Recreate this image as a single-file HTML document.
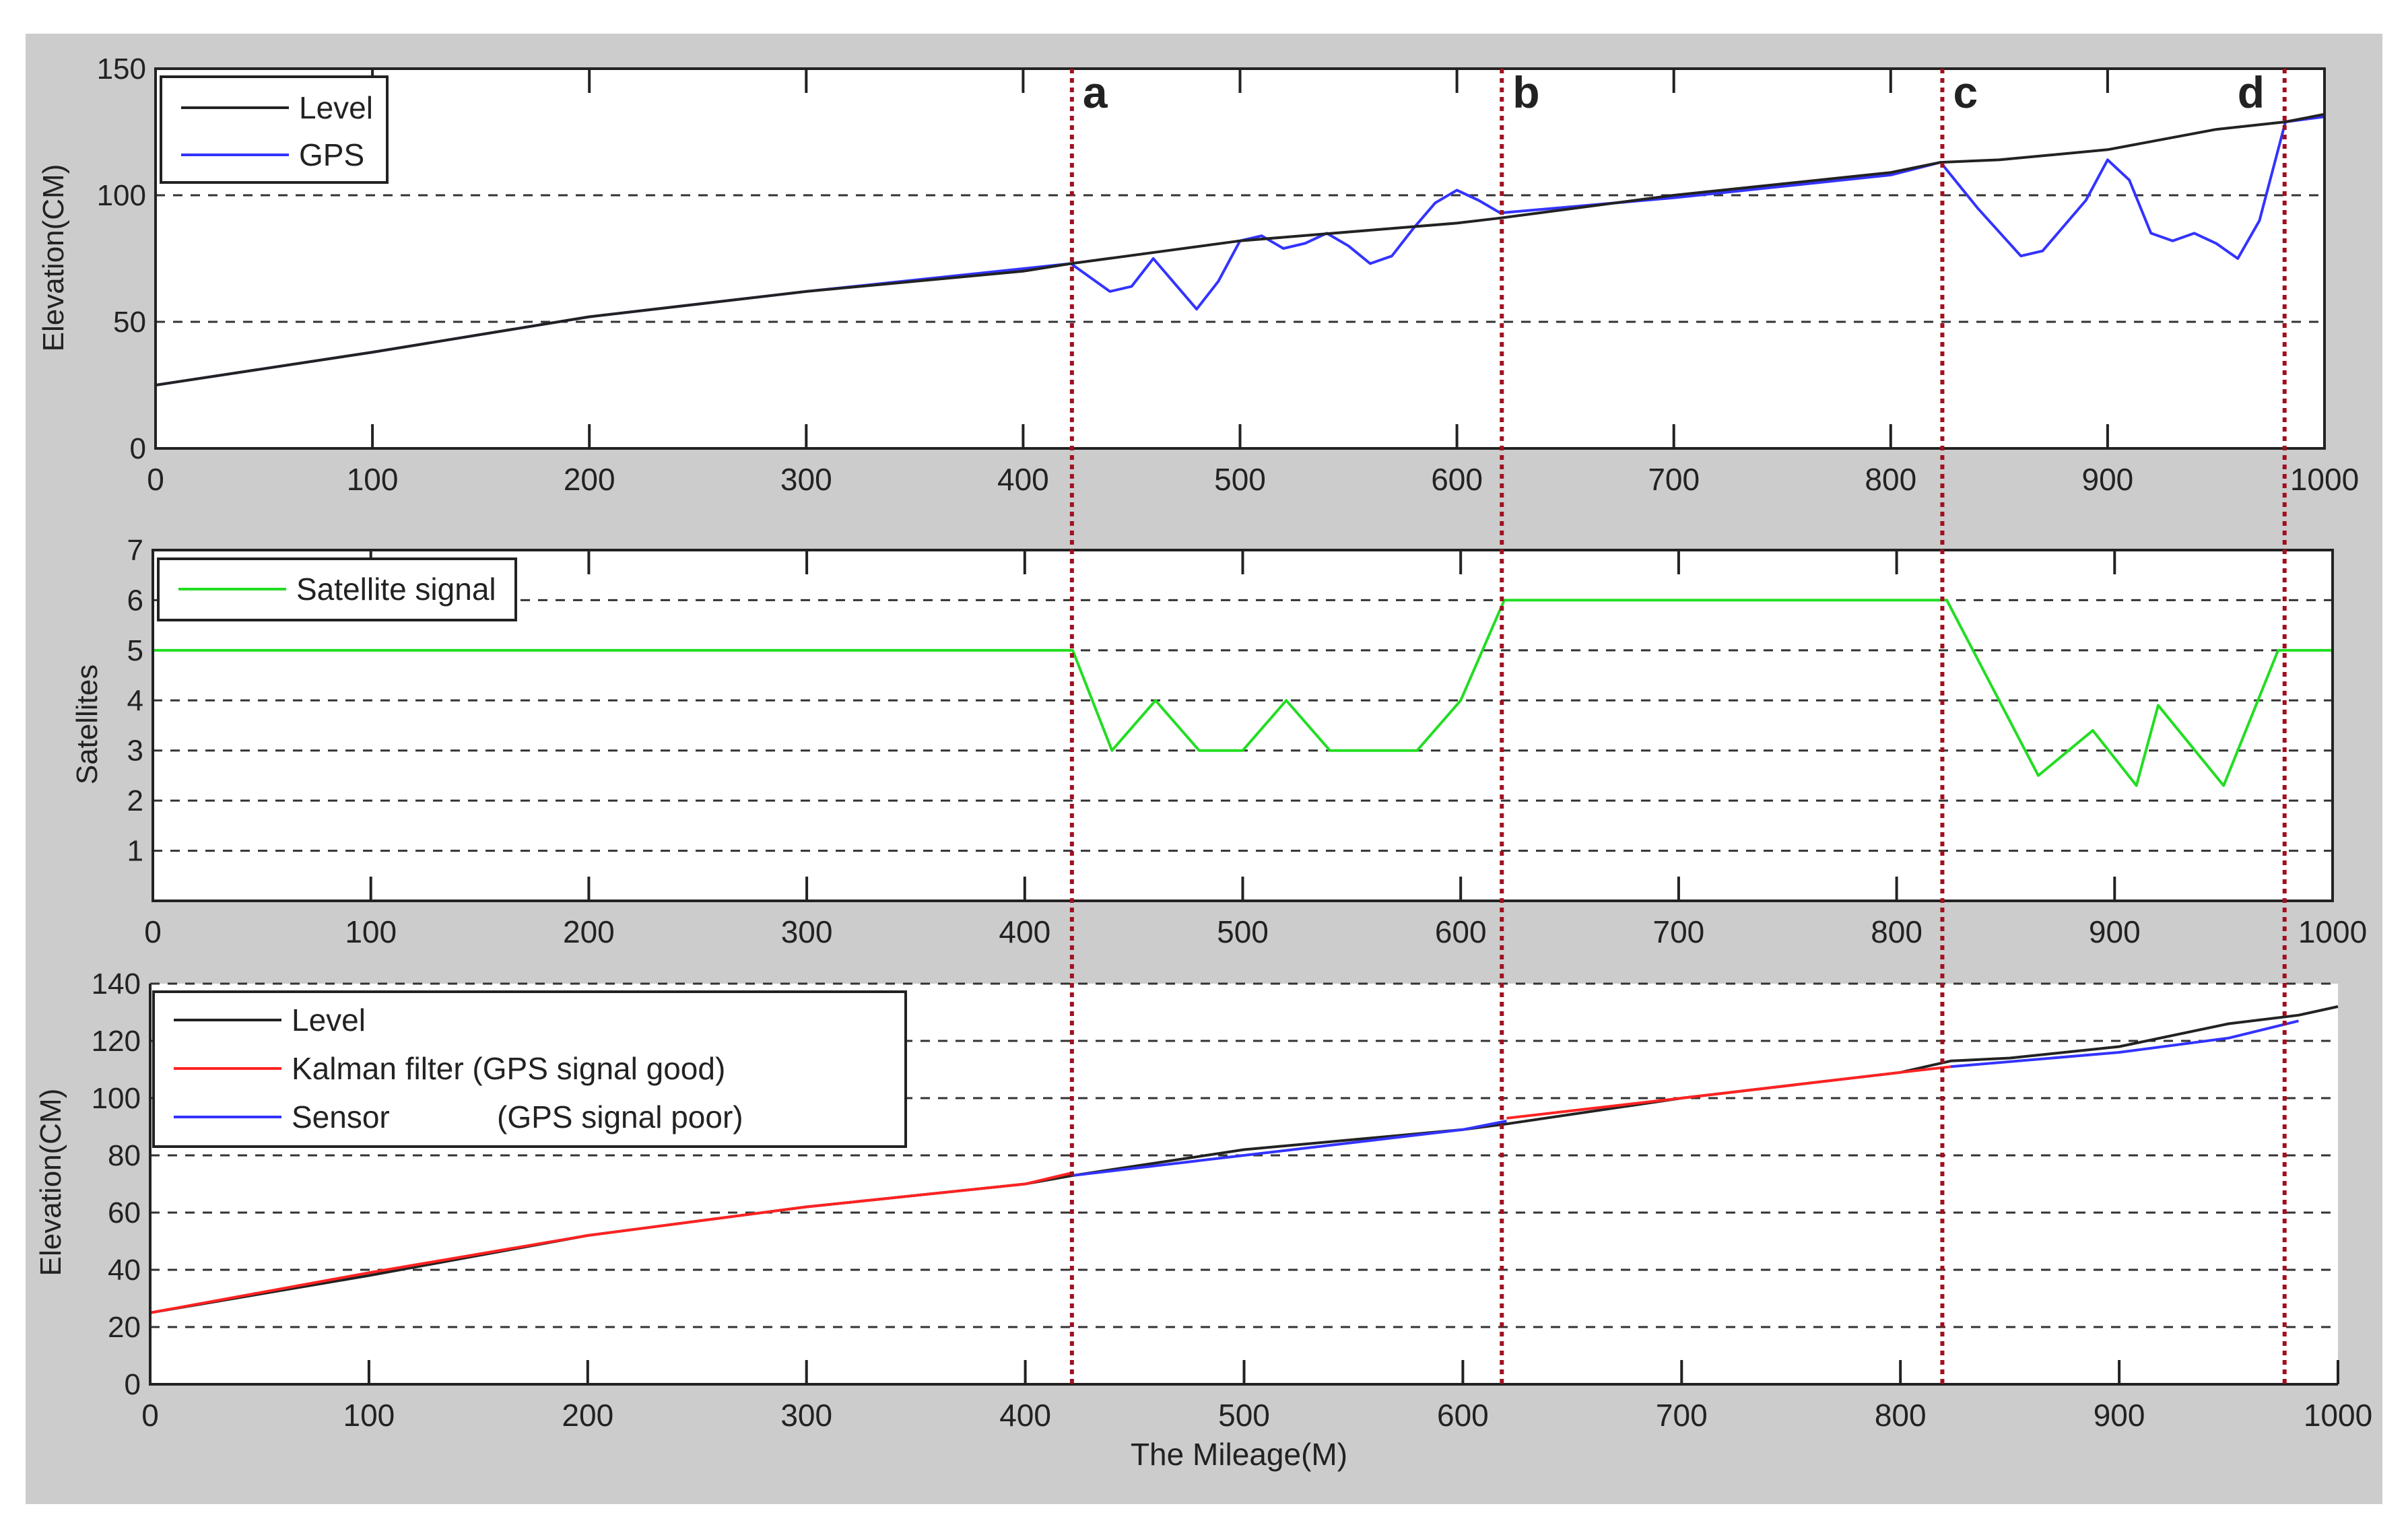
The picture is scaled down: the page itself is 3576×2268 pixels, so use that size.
<!DOCTYPE html>
<html><head><meta charset="utf-8"><style>
html,body{margin:0;padding:0;background:#fff;}
svg{display:block;}
text{font-family:"Liberation Sans Narrow","Liberation Sans",sans-serif;fill:#222;white-space:pre;}
</style></head><body>
<svg id="chart" width="3576" height="2268" viewBox="0 0 3576 2268" xmlns="http://www.w3.org/2000/svg" xml:space="preserve">
<rect x="38" y="50" width="3500" height="2184" fill="#cccccc"/>
<g id="g"></g>
</svg>
<script>
// ---- data ----
const levelX = [0,100,200,300,400,422,500,600,620,700,800,823,850,900,950,982,1000];
const levelY = [25,38,52,62,70,73,82,89,91,100,109,113,114,118,126,129,132];
const gpsX = [0,100,200,300,400,422,440,450,460,470,480,490,500,510,520,530,540,550,560,570,580,590,600,610,620,700,800,823,840,860,870,890,900,910,920,930,940,950,960,970,982,1000];
const gpsY = [25,38,52,62,71,73,62,64,75,65,55,66,82,84,79,81,85,80,73,76,87,97,102,98,93,99,108,113,95,76,78,98,114,106,85,82,85,81,75,90,129,131];
const satX = [0,422,440,460,480,500,520,540,580,600,620,823,865,890,910,920,950,975,1000];
const satY = [5,5,3,4,3,3,4,3,3,4,6,6,2.5,3.4,2.3,3.9,2.3,5,5];
const kalX1 = [0,100,200,300,400,422];
const kalY1 = [25,39,52,62,70,74];
const kalX2 = [620,700,800,823];
const kalY2 = [93,100,109,111];
const senX1 = [422,500,600,620];
const senY1 = [73,80,89,92];
const senX2 = [823,900,950,982];
const senY2 = [111,116,121,127];
const xTicks = [0,100,200,300,400,500,600,700,800,900,1000];
const y1Ticks = [0,50,100,150];
const y2Ticks = [1,2,3,4,5,6,7];
const y3Ticks = [0,20,40,60,80,100,120,140];
const markerX = [422.5,620.7,823.8,981.6];
const markerLabels = ['a','b','c','d'];

const NS='http://www.w3.org/2000/svg';
const G=document.getElementById('g');
function el(tag,attrs,parent){const e=document.createElementNS(NS,tag);for(const k in attrs)e.setAttribute(k,attrs[k]);(parent||G).appendChild(e);return e;}
function sx(p,v){return p.l+(p.r-p.l)*v/1000;}
function sy(p,v){return p.b-(p.b-p.t)*(v-p.y0)/(p.y1-p.y0);}
function line(p,xs,ys,color,name,w){
  let d='';for(let i=0;i<xs.length;i++)d+=(i?'L':'M')+sx(p,xs[i]).toFixed(1)+' '+sy(p,ys[i]).toFixed(1);
  const e=el('path',{d:d,fill:'none',stroke:color,'stroke-width':w||4,'stroke-linejoin':'round'});
  
  
}
const P1={l:231,r:3452,t:102,b:666,y0:0,y1:150};
const P2={l:227,r:3464,t:817,b:1338,y0:0,y1:7};
const P3={l:223,r:3472,t:1461,b:2056,y0:0,y1:140};

function axes(p,yt,name,box){
  const bg=el('rect',{x:p.l,y:p.t,width:p.r-p.l,height:p.b-p.t,fill:'#fff'});
  
  
  yt.forEach(v=>{
    const y=sy(p,v);
    if(v===p.y0) return;
    if(box && v===p.y1) return;
    const gl=el('line',{x1:p.l,x2:p.r,y1:y,y2:y,stroke:'#333','stroke-width':3,'stroke-dasharray':'14 12'});
    
    
  });
  yt.forEach(v=>{
    const t=el('text',{x:p.l-14,y:sy(p,v)+15,'font-size':44,'text-anchor':'end'});t.textContent=v;
    
    
  });
  xTicks.forEach(v=>{
    const x=sx(p,v);
    const tk=el('line',{x1:x,x2:x,y1:p.b,y2:p.b-36,stroke:'#222','stroke-width':4});
    
    
    if(box){const tk2=el('line',{x1:x,x2:x,y1:p.t,y2:p.t+36,stroke:'#222','stroke-width':4});
      
      }
    const t=el('text',{x:x,y:p.b+62,'font-size':46,'text-anchor':'middle'});t.textContent=v;
    
    
  });
}
function frame(p,box,name){
  if(box){const f=el('rect',{x:p.l,y:p.t,width:p.r-p.l,height:p.b-p.t,fill:'none',stroke:'#222','stroke-width':4});
    }
  else{const f=el('path',{d:`M${p.l} ${p.t}V${p.b}H${p.r}`,fill:'none',stroke:'#222','stroke-width':4});
    
    const tl=el('line',{x1:p.l,x2:p.r,y1:p.t,y2:p.t,stroke:'#333','stroke-width':3,'stroke-dasharray':'14 12'});
    }
}
function legend(x,y,w,h,items,name){
  const r=el('rect',{x:x,y:y,width:w,height:h,fill:'#fff',stroke:'#222','stroke-width':4});
  
  items.forEach((it,i)=>{
    const yy=y+it[2];
    const l=el('line',{x1:x+30,x2:x+190,y1:yy,y2:yy,stroke:it[1],'stroke-width':4});
    
    const t=el('text',{x:x+205,y:yy+16,'font-size':46});t.textContent=it[0];
    
    if(it[3]){const t2=el('text',{x:x+it[4],y:yy+16,'font-size':46});t2.textContent=it[3];
      }
  });
}

// Plot 1
axes(P1,y1Ticks,'elevation-gps',true);
line(P1,gpsX,gpsY,'#3333ff','gps-line',4);
line(P1,levelX,levelY,'#222','level-line-top',4);
frame(P1,true,'elevation-gps');
legend(239,114,336,157,[['Level','#222',46],['GPS','#3333ff',116]],'legend-top');

// Plot 2
axes(P2,y2Ticks,'satellites',true);
line(P2,satX,satY,'#22dd22','satellite-signal-line',4);
frame(P2,true,'satellites');
legend(235,830,531,91,[['Satellite signal','#22dd22',45]],'legend-middle');

// Plot 3
axes(P3,y3Ticks,'elevation-kalman',false);
line(P3,levelX,levelY,'#222','level-line-bottom',4);
line(P3,kalX1,kalY1,'#ff2222','kalman-line-1',4);
line(P3,kalX2,kalY2,'#ff2222','kalman-line-2',4);
line(P3,senX1,senY1,'#3333ff','sensor-line-1',4);
line(P3,senX2,senY2,'#3333ff','sensor-line-2',4);
frame(P3,false,'elevation-kalman');
legend(228,1473,1117,230,[['Level','#222',42],['Kalman filter (GPS signal good)','#ff2222',114],['Sensor','#3333ff',186,'(GPS signal poor)',510]],'legend-bottom');

// markers
markerX.forEach((v,i)=>{
  const x=sx(P1,v);
  const m=el('line',{x1:x,x2:x,y1:102,y2:2060,stroke:'#a01020','stroke-width':6,'stroke-dasharray':'7 7'});
  
  
  const tx = i===3 ? x-70 : x+16;
  const t=el('text',{x:tx,y:160,'font-size':66,'font-weight':'bold'});t.textContent=markerLabels[i];
  
  
});

// axis titles
function rtitle(x,y,s,name){const t=el('text',{x:x,y:y,'font-size':44,'text-anchor':'middle',transform:`rotate(-90 ${x} ${y})`});t.textContent=s;
  }
rtitle(94,383,'Elevation(CM)','y-axis-title-top');
rtitle(144,1076,'Satellites','y-axis-title-middle');
rtitle(90,1756,'Elevation(CM)','y-axis-title-bottom');
const xt=el('text',{x:1840,y:2176,'font-size':46,'text-anchor':'middle'});xt.textContent='The Mileage(M)';


</script>
</body></html>
